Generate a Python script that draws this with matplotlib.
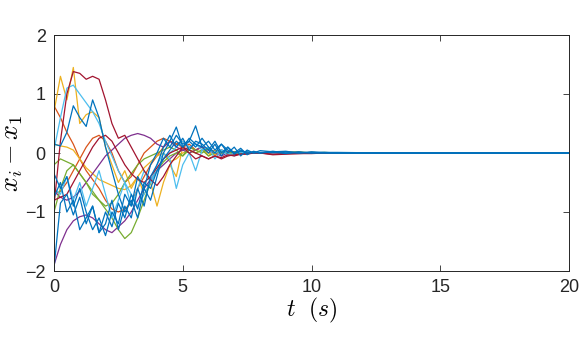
import matplotlib
matplotlib.use("Agg")
import matplotlib.pyplot as plt
import numpy as np

# time samples (s)
t = [0, 0.25, 0.5, 0.75, 1, 1.25, 1.5, 1.75, 2, 2.25, 2.5, 2.75, 3, 3.25, 3.5, 3.75,
     4, 4.25, 4.5, 4.75, 5, 5.25, 5.5, 5.75, 6, 6.25, 6.5, 6.75, 7, 7.25, 7.5, 7.75, 8,
     8.5, 9, 9.5, 10, 10.5, 11, 12, 13, 14, 16, 18, 20]

# errors x_i - x_1
orange_1 = [0.8, 0.6, 0.35, 0.15, -0.1, -0.3, -0.45, -0.6, -0.8, -0.95, -1.0, -0.95, -0.85, -0.6, -0.4, -0.2,
            -0.05, 0.1, 0.2, 0.15, 0.1, 0.15, 0.05, 0.1, 0.0, 0.05, 0.0, 0.03, 0.0, 0.01, 0.0, 0.0, 0.0,
            0.01, 0.0, 0.01, 0.0, 0.0, 0.0, 0.0, 0.0, 0.0, 0.0, 0.0, 0.0]
orange_2 = [-0.7, -0.65, -0.5, -0.3, -0.1, 0.1, 0.25, 0.3, 0.2, 0.0, -0.3, -0.5, -0.4, -0.2, 0.0, 0.1,
            0.2, 0.25, 0.2, 0.15, 0.2, 0.1, 0.05, 0.1, 0.05, 0.0, 0.05, 0.0, 0.02, 0.0, 0.0, 0.0, 0.0,
            0.02, 0.0, 0.01, 0.0, 0.0, 0.0, 0.0, 0.0, 0.0, 0.0, 0.0, 0.0]
yellow_1 = [0.7, 1.3, 0.9, 1.45, 0.5, 0.65, 0.7, 0.6, 0.1, -0.2, -0.5, -0.3, -0.6, -0.4, -0.7, -0.5,
            -0.9, -0.5, -0.2, -0.4, 0.1, 0.0, 0.05, 0.1, -0.05, 0.05, 0.0, 0.02, -0.02, 0.01, 0.0, 0.0, 0.0,
            0.01, -0.01, 0.0, 0.01, 0.0, 0.0, 0.0, 0.0, 0.0, 0.0, 0.0, 0.0]
yellow_2 = [0.15, 0.12, 0.1, 0.05, -0.1, -0.25, -0.35, -0.45, -0.5, -0.55, -0.6, -0.62, -0.55, -0.4, -0.25, -0.15,
            -0.05, 0.0, -0.15, -0.1, 0.0, 0.05, 0.0, 0.05, 0.0, -0.03, 0.0, 0.02, 0.0, 0.0, 0.0, 0.0, 0.0,
            0.0, 0.01, 0.0, 0.0, 0.0, 0.0, 0.0, 0.0, 0.0, 0.0, 0.0, 0.0]
purple_1 = [-1.9, -1.55, -1.3, -1.15, -1.08, -1.05, -1.1, -1.2, -1.3, -1.35, -1.25, -1.15, -1.0, -0.8, -0.6, -0.45,
            -0.3, -0.2, -0.1, 0.0, 0.05, 0.0, 0.05, 0.1, 0.05, 0.0, -0.05, 0.0, 0.02, 0.0, 0.0, 0.0, 0.0,
            0.0, 0.01, 0.0, 0.0, 0.0, 0.0, 0.0, 0.0, 0.0, 0.0, 0.0, 0.0]
purple_2 = [-0.65, -0.75, -0.8, -0.75, -0.65, -0.5, -0.35, -0.2, -0.05, 0.05, 0.15, 0.25, 0.3, 0.33, 0.3, 0.25,
            0.15, 0.1, 0.2, 0.1, 0.05, 0.1, 0.15, 0.1, 0.05, 0.0, 0.05, 0.02, 0.0, 0.0, 0.0, 0.0, 0.0,
            0.01, 0.0, 0.0, 0.0, 0.0, 0.0, 0.0, 0.0, 0.0, 0.0, 0.0, 0.0]
green_1 = [-0.2, -0.1, -0.15, -0.2, -0.35, -0.5, -0.65, -0.8, -0.95, -1.1, -1.3, -1.45, -1.35, -1.1, -0.8, -0.5,
           -0.3, -0.15, -0.05, 0.0, -0.05, 0.05, 0.0, 0.05, -0.05, 0.0, 0.03, 0.0, 0.0, 0.0, 0.0, 0.0, 0.0,
           0.01, 0.02, 0.0, 0.01, 0.0, 0.0, 0.0, 0.0, 0.0, 0.0, 0.0, 0.0]
green_2 = [-1.0, -0.6, -0.3, -0.2, -0.35, -0.5, -0.7, -0.8, -0.9, -0.85, -0.7, -0.5, -0.35, -0.2, -0.1, -0.05,
           0.0, 0.05, 0.1, 0.05, -0.05, 0.1, 0.05, 0.0, 0.08, 0.0, 0.05, 0.0, 0.02, 0.0, 0.0, 0.0, 0.0,
           0.02, 0.01, 0.02, 0.0, 0.01, 0.0, 0.0, 0.0, 0.0, 0.0, 0.0, 0.0]
lightblue_1 = [0.05, 0.6, 1.1, 1.15, 1.0, 0.85, 0.7, 0.5, 0.2, -0.05, -0.3, -0.5, -0.7, -0.9, -0.7, -0.5,
               -0.3, -0.1, 0.0, 0.1, 0.2, 0.1, 0.15, 0.05, 0.1, 0.0, 0.05, -0.05, 0.0, 0.02, 0.0, 0.01, 0.0,
               0.0, 0.01, 0.0, 0.0, 0.0, 0.0, 0.0, 0.0, 0.0, 0.0, 0.0, 0.0]
lightblue_2 = [-0.6, -0.7, -0.4, -0.8, -0.5, -0.9, -0.6, -0.3, -0.7, -1.1, -0.8, -0.5, -0.9, -0.6, -0.3, -0.5,
               -0.2, 0.0, -0.1, -0.6, -0.2, 0.0, -0.3, 0.05, 0.1, -0.1, 0.05, 0.0, -0.05, 0.0, 0.02, 0.0, 0.0,
               -0.01, 0.0, 0.01, 0.0, 0.0, 0.0, 0.0, 0.0, 0.0, 0.0, 0.0, 0.0]
red_1 = [-0.9, 0.2, 1.0, 1.38, 1.35, 1.25, 1.3, 1.25, 0.9, 0.5, 0.25, 0.3, 0.1, -0.1, -0.3, -0.45,
         -0.55, -0.4, -0.2, -0.05, 0.1, 0.0, -0.1, -0.05, -0.1, -0.05, -0.08, -0.03, -0.05, -0.02, -0.02, 0.0, 0.0,
         -0.02, -0.01, -0.01, 0.0, 0.0, 0.0, 0.0, 0.0, 0.0, 0.0, 0.0, 0.0]
red_2 = [-0.8, -0.75, -0.7, -0.5, -0.3, -0.1, 0.1, 0.25, 0.3, 0.2, 0.0, -0.2, -0.35, -0.45, -0.5, -0.4,
         -0.25, -0.1, 0.0, 0.05, 0.1, 0.05, 0.0, -0.05, -0.1, -0.05, -0.1, -0.05, -0.03, -0.02, -0.01, 0.0, 0.0,
         -0.03, -0.02, -0.01, -0.01, 0.0, 0.0, 0.0, 0.0, 0.0, 0.0, 0.0, 0.0]
blue_1 = [-1.95, -0.85, -0.7, -1.05, -0.75, -1.2, -0.9, -1.35, -1.0, -1.25, -0.85, -1.1, -0.7, -0.95, -0.5, -0.6,
          -0.3, -0.1, 0.05, 0.2, 0.1, 0.25, 0.15, 0.1, 0.2, 0.05, 0.15, 0.0, 0.1, -0.05, 0.05, 0.0, 0.04,
          0.02, 0.03, 0.0, 0.02, 0.01, 0.01, 0.005, 0.0, 0.0, 0.0, 0.0, 0.0]
blue_2 = [0.15, 0.12, 0.35, 0.8, 0.6, 0.45, 0.9, 0.6, 0.1, -0.3, -0.7, -1.0, -0.8, -1.1, -0.6, -0.8,
          -0.4, 0.0, 0.2, 0.44, 0.1, 0.2, 0.46, 0.1, 0.0, 0.15, -0.05, 0.1, 0.0, 0.08, -0.03, 0.03, 0.0,
          0.02, -0.01, 0.01, 0.0, 0.0, 0.0, 0.0, 0.0, 0.0, 0.0, 0.0, 0.0]
blue_3 = [-0.75, -0.5, -1.0, -0.8, -1.3, -1.1, -0.9, -1.35, -1.2, -0.8, -1.3, -0.9, -1.1, -0.6, -0.9, -0.4,
          -0.2, 0.1, 0.3, 0.1, 0.25, 0.05, 0.2, 0.15, 0.05, 0.2, 0.0, 0.1, -0.02, 0.05, 0.0, 0.02, 0.0,
          0.03, 0.0, 0.02, 0.0, 0.01, 0.0, 0.0, 0.0, 0.0, 0.0, 0.0, 0.0]
blue_4 = [-0.35, -0.6, -0.4, -0.9, -0.6, -1.0, -1.3, -1.1, -1.4, -1.0, -1.2, -0.7, -0.9, -0.4, -0.6, -0.2,
          0.0, 0.25, 0.1, 0.3, 0.15, 0.2, 0.1, 0.25, 0.1, 0.0, 0.15, 0.05, 0.0, 0.03, 0.02, 0.0, 0.01,
          0.01, 0.02, 0.0, 0.01, 0.0, 0.0, 0.0, 0.0, 0.0, 0.0, 0.0, 0.0]

series = [
    (orange_1, '#D95319'), (orange_2, '#D95319'),
    (yellow_1, '#EDB120'), (yellow_2, '#EDB120'),
    (purple_1, '#7E2F8E'), (purple_2, '#7E2F8E'),
    (green_1, '#77AC30'), (green_2, '#77AC30'),
    (lightblue_1, '#4DBEEE'), (lightblue_2, '#4DBEEE'),
    (red_1, '#A2142F'), (red_2, '#A2142F'),
    (blue_1, '#0072BD'), (blue_2, '#0072BD'), (blue_3, '#0072BD'), (blue_4, '#0072BD'),
]

plt.rcParams['font.family'] = ['Liberation Sans', 'DejaVu Sans']
plt.rcParams['mathtext.fontset'] = 'cm'

fig = plt.figure(figsize=(5.82, 3.40), dpi=100)
ax = fig.add_axes([54 / 582, 69 / 340, 515 / 582, 236 / 340])

for y, c in series:
    ax.plot(t, y, color=c, linewidth=0.9)

ax.set_xlim(0, 20)
ax.set_ylim(-2, 2)
ax.set_xticks([0, 5, 10, 15, 20])
ax.set_yticks([-2, -1, 0, 1, 2])
ax.tick_params(direction='in', top=True, right=True, length=4, width=0.6,
               labelsize=13, colors='#262626', pad=6)
for s in ax.spines.values():
    s.set_linewidth(0.7)
    s.set_color('#262626')

ax.set_xlabel(r'$t\ \ (s)$', fontsize=17, labelpad=0)
ax.set_ylabel(r'$x_i - x_1$', fontsize=19, labelpad=0)

fig.savefig('out.png', dpi=100)
